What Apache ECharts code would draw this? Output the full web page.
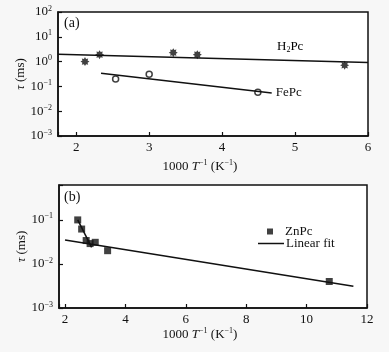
<!DOCTYPE html>
<html>
<head>
<meta charset="utf-8">
<script src="https://cdn.jsdelivr.net/npm/echarts@6/dist/echarts.min.js"></script>
<style>
  html, body { margin: 0; padding: 0; background: #f7f7f7; }
  #chart { width: 389px; height: 352px; }
</style>
</head>
<body>
<div id="chart"></div>
<script>
// panel (a): H2Pc and FePc
const h2pcX = [2.12, 2.32, 3.33, 3.66, 5.68];
const h2pcY = [1.0, 1.9, 2.3, 1.9, 0.71];
const h2pcFitX = [1.75, 6];
const h2pcFitY = [1.97, 0.92];
const fepcX = [2.54, 3.0, 4.49];
const fepcY = [0.20, 0.31, 0.058];
const fepcFitX = [2.34, 4.68];
const fepcFitY = [0.34, 0.054];

// panel (b): ZnPc
const znpcX = [2.42, 2.55, 2.70, 2.83, 3.0, 3.41, 10.75];
const znpcY = [0.1, 0.062, 0.034, 0.029, 0.031, 0.020, 0.004];
const znFitX = [2.0, 11.55];
const znFitY = [0.035, 0.0031];
const znSteepX = [2.42, 2.88];
const znSteepY = [0.1, 0.0237];

const pairs = (xs, ys) => xs.map((x, i) => [x, ys[i]]);

const FONT = '"Liberation Serif", "DejaVu Serif", serif';
const INK = '#111';

// 8 point star used for the H2Pc points
let star = 'path://';
for (let k = 0; k < 16; k++) {
  const a = k * Math.PI / 8;
  const r = k % 2 ? 0.62 : 1;
  star += (k ? 'L' : 'M') + (10 + 10 * r * Math.cos(a)).toFixed(2) + ',' + (10 + 10 * r * Math.sin(a)).toFixed(2);
}
star += 'Z';

const richText = {
  n: { fontFamily: FONT, fontSize: 13, color: INK },
  i: { fontFamily: FONT, fontSize: 13, color: INK, fontStyle: 'italic' },
  s: { fontFamily: FONT, fontSize: 8, color: INK, padding: [0, 0, 7, 0] }
};

const powLabel = v => {
  const e = Math.log10(v);
  if (Math.abs(e - Math.round(e)) > 1e-6) return '';
  const n = Math.round(e);
  return '{n|10}{s|' + (n < 0 ? '\u2212' + (-n) : n) + '}';
};

const xName = '{n|1000 }{i|T}{s|\u22121}{n| (K}{s|\u22121}{n|)}';
const yName = '{i|\u03c4}{n| (ms)}';

function xAxis(idx, min, max, step, gap) {
  return {
    gridIndex: idx, type: 'value', min: min, max: max,
    minInterval: step, maxInterval: step,
    name: xName, nameLocation: 'middle', nameGap: gap,
    nameTextStyle: { rich: richText, padding: [0, 26, 0, 0] },
    axisLine: { lineStyle: { color: INK, width: 1.5 } },
    axisTick: { inside: true, length: 4, lineStyle: { color: INK, width: 1.2 } },
    axisLabel: {
      fontFamily: FONT, fontSize: 13, color: INK, margin: 5,
      formatter: v => (Math.abs(v / step - Math.round(v / step)) < 1e-6 ? String(v) : '')
    },
    splitLine: { show: false }
  };
}

function yAxis(idx, min, max) {
  return {
    gridIndex: idx, type: 'log', logBase: 10, min: min, max: max,
    name: yName, nameLocation: 'middle', nameGap: 31, nameRotate: 90,
    nameMoveOverlap: false,
    nameTextStyle: { rich: richText },
    axisLine: { lineStyle: { color: INK, width: 1.5 } },
    axisTick: { inside: true, length: 4, lineStyle: { color: INK, width: 1.2 } },
    minorTick: { show: false },
    axisLabel: { margin: 6, formatter: powLabel, rich: richText },
    splitLine: { show: false }
  };
}

const lineStyle = { color: INK, width: 1.5 };

const option = {
  backgroundColor: '#f7f7f7',
  animation: false,
  grid: [
    { left: 58, top: 12, width: 310, height: 124, show: true, backgroundColor: '#fff', borderColor: INK, borderWidth: 1.5 },
    { left: 59, top: 185, width: 308, height: 123, show: true, backgroundColor: '#fff', borderColor: INK, borderWidth: 1.5 }
  ],
  xAxis: [xAxis(0, 1.75, 6, 1, 23), xAxis(1, 1.8, 12, 2, 19)],
  yAxis: [yAxis(0, 0.001, 100), yAxis(1, 0.001, 0.62)],
  legend: [
    {
      data: ['ZnPc'], left: 267, top: 225, padding: 0, icon: 'rect',
      itemWidth: 6, itemHeight: 6,
      textStyle: { fontFamily: FONT, fontSize: 13, color: INK, padding: [0, 0, 0, 7] }
    },
    {
      data: ['Linear fit'], left: 258, top: 237, padding: 0, icon: 'rect',
      itemWidth: 26, itemHeight: 1.5,
      textStyle: { fontFamily: FONT, fontSize: 13, color: INK, padding: [0, 0, 0, -3] }
    }
  ],
  graphic: [
    { type: 'text', left: 64, top: 16, style: { text: '(a)', font: '14px ' + FONT, fill: INK } },
    { type: 'text', left: 64, top: 190, style: { text: '(b)', font: '14px ' + FONT, fill: INK } },
    {
      type: 'text', left: 277, top: 40,
      style: {
        text: '{n|H}{d|2}{n|Pc}',
        rich: { n: richText.n, d: { fontFamily: FONT, fontSize: 8, color: INK, padding: [7, 0, 0, 0] } }
      }
    }
  ],
  series: [
    {
      name: 'H2Pc fit', type: 'line', xAxisIndex: 0, yAxisIndex: 0,
      data: pairs(h2pcFitX, h2pcFitY), symbol: 'none', lineStyle: lineStyle
    },
    {
      name: 'FePc fit', type: 'line', xAxisIndex: 0, yAxisIndex: 0,
      data: pairs(fepcFitX, fepcFitY), symbol: 'none', lineStyle: lineStyle,
      endLabel: { show: true, formatter: 'FePc', distance: 4, fontFamily: FONT, fontSize: 13, color: INK }
    },
    {
      name: 'H2Pc', type: 'scatter', xAxisIndex: 0, yAxisIndex: 0,
      data: pairs(h2pcX, h2pcY), symbol: star, symbolSize: 9,
      itemStyle: { color: INK }
    },
    {
      name: 'FePc', type: 'scatter', xAxisIndex: 0, yAxisIndex: 0,
      data: pairs(fepcX, fepcY), symbol: 'circle', symbolSize: 6,
      itemStyle: { color: '#fff', borderColor: INK, borderWidth: 1.5 }
    },
    {
      name: 'Linear fit', type: 'line', xAxisIndex: 1, yAxisIndex: 1,
      data: pairs(znFitX, znFitY), symbol: 'none', lineStyle: lineStyle,
      itemStyle: { color: INK }
    },
    {
      name: 'steep', type: 'line', xAxisIndex: 1, yAxisIndex: 1,
      data: pairs(znSteepX, znSteepY), symbol: 'none', lineStyle: lineStyle
    },
    {
      name: 'ZnPc', type: 'scatter', xAxisIndex: 1, yAxisIndex: 1,
      data: pairs(znpcX, znpcY), symbol: 'rect', symbolSize: 7,
      itemStyle: { color: INK }
    }
  ]
};

const chart = echarts.init(document.getElementById('chart'));
chart.setOption(option);
</script>
</body>
</html>
